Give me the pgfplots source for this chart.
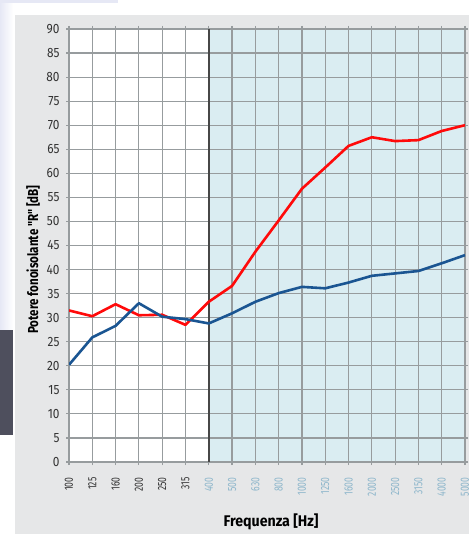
\documentclass[border=0pt]{standalone}
\usepackage{pgfplots}
\pgfplotsset{compat=1.18}
\usepackage{fontspec}
\setmainfont{Fira Sans}
\newfontfamily\xtickfont{Fira Sans}[FakeStretch=0.72]
\newfontfamily\ytickfont{Fira Sans}[FakeStretch=0.88]
\newfontfamily\ylabfont{Fira Sans}[FakeStretch=0.8]
\newfontfamily\xlabfont{Fira Sans}[FakeStretch=0.92]

\definecolor{panel}{HTML}{E6E7E8}
\definecolor{lav}{HTML}{E6E8F5}
\definecolor{darkstrip}{HTML}{4E4F5D}
\definecolor{zone}{HTML}{DAEDF2}
\definecolor{gridc}{HTML}{979C9E}
\definecolor{redline}{HTML}{FF0A0A}
\definecolor{blueline}{HTML}{1A5592}
\definecolor{txt}{HTML}{333333}
\definecolor{hi}{HTML}{8DB6CB}

\newcommand{\hl}[1]{\textcolor{hi}{#1}}

\begin{document}
\begin{tikzpicture}[x=1bp,y=1bp]
% page and panel backgrounds
\fill[white] (-69,-72) rectangle (400,462);
\fill[lav] (-69,458.5) rectangle (49,462);
\shade[left color=lav, right color=white] (-69,132) rectangle (-56,458.5);
\fill[darkstrip] (-69,27) rectangle (-56,132);
\fill[panel] (-54,-72) rectangle (400,447);

\begin{axis}[
  at={(0,0)}, anchor=south west,
  scale only axis,
  width=396bp, height=433bp,
  xmin=0, xmax=17, ymin=0, ymax=90,
  % white plot area, light blue band from 400 Hz upwards
  axis background/.style={fill=white, path picture={
    \fill[zone] ([xshift=139.76bp]path picture bounding box.south west)
      rectangle (path picture bounding box.north east);}},
  xtick={0,...,17},
  xticklabels={100,125,160,200,250,315,\hl{400},\hl{500},\hl{630},\hl{800},\hl{1000},\hl{1250},\hl{1600},\hl{2000},\hl{2500},\hl{3150},\hl{4000},\hl{5000}},
  ytick={0,5,...,90},
  /pgf/number format/assume math mode=true,
  grid=major,
  major grid style={gridc, line width=1.2bp},
  axis line style={gridc, line width=1.2bp},
  tick style={gridc, line width=1.2bp},
  tick align=outside,
  major tick length=3bp,
  xticklabel style={font=\xtickfont\fontsize{12}{12}\selectfont, color=txt, rotate=90, anchor=east, xshift=-9bp},
  yticklabel style={font=\ytickfont\fontsize{13.5}{13.5}\selectfont, color=txt, anchor=east, xshift=-3bp},
  every axis x label/.style={at={(axis description cs:0.5,0)}, anchor=center, yshift=-60bp, xshift=4bp,
    font=\xlabfont\bfseries\fontsize{15.5}{15.5}\selectfont},
  every axis y label/.style={at={(axis description cs:0,0.5)}, anchor=center, rotate=90, yshift=36bp, xshift=-14bp,
    font=\ylabfont\bfseries\fontsize{14.5}{14.5}\selectfont},
  xlabel={Frequenza [Hz]},
  ylabel={Potere fonoisolante "R" [dB]},
  line join=round,
]
% boundary of the shaded band at 400 Hz
\draw[black!72, line width=1.5bp] (axis cs:6,0) -- (axis cs:6,90);

% R, first configuration
\addplot[redline, line width=2.6bp, no marks] coordinates {
  (0,31.5) (1,30.3) (2,32.8) (3,30.5) (4,30.6) (5,28.5) (6,33.3) (7,36.6)
  (8,43.7) (9,50.2) (10,56.8) (11,61.2) (12,65.7) (13,67.5) (14,66.7)
  (15,66.9) (16,68.8) (17,70.0)};
% R, second configuration
\addplot[blueline, line width=2.6bp, no marks] coordinates {
  (0,20.2) (1,25.9) (2,28.3) (3,33.0) (4,30.2) (5,29.7) (6,28.8) (7,30.9)
  (8,33.3) (9,35.1) (10,36.4) (11,36.1) (12,37.3) (13,38.7) (14,39.2)
  (15,39.7) (16,41.3) (17,43.0)};
\end{axis}
\end{tikzpicture}
\end{document}
